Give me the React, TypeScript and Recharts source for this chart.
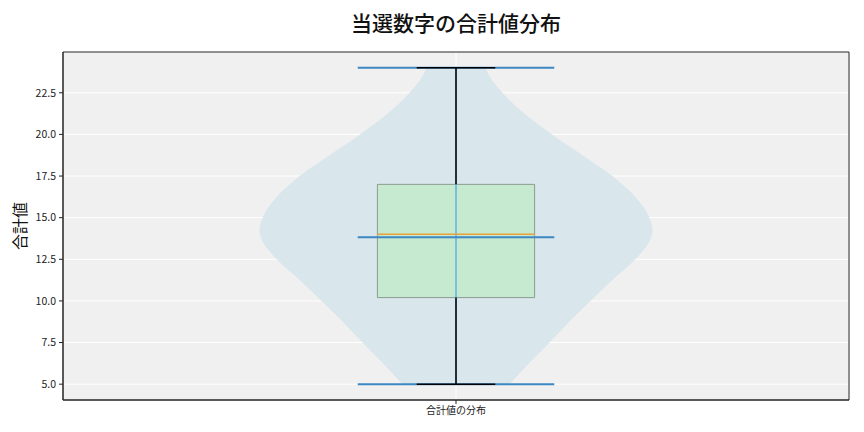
import {
  ComposedChart,
  Area,
  XAxis,
  YAxis,
  CartesianGrid,
  ReferenceArea,
  ReferenceLine
} from "recharts";

// violin outline: value on the y axis, half width in x-axis units
const violinValues = [5, 6.25, 7.5, 8.75, 10, 11.25, 12.5, 13.4, 14.25, 15, 16.25, 17.5, 18.75, 20, 21.25, 22.5, 23.25, 24];
const violinHalfWidth = [
  0.068, 0.093, 0.119, 0.144, 0.171, 0.199, 0.228, 0.244, 0.25, 0.246,
  0.228, 0.199, 0.161, 0.122, 0.087, 0.059, 0.046, 0.037
];

// box plot stats
const minValue = 5;
const maxValue = 24;
const q1 = 10.2;
const q3 = 17.0;
const median = 14.0;
const mean = 13.82;

const yTicks = [5, 7.5, 10, 12.5, 15, 17.5, 20, 22.5];
const categoryLabel = "合計値の分布";
const position = 1;

const FONT = '"Noto Sans CJK JP", "Noto Sans", sans-serif';
const BLUE = "#3d88c2";

const violinData = violinValues.map((v, i) => ({
  value: v,
  range: [position - violinHalfWidth[i], position + violinHalfWidth[i]]
}));

export default function App() {
  return (
    <div
      style={{
        position: "fixed",
        left: 0,
        top: 0,
        width: 864,
        height: 432,
        background: "#fff",
        fontFamily: FONT
      }}
    >
      <div
        style={{
          position: "absolute",
          left: 63,
          width: 786,
          top: 7,
          textAlign: "center",
          fontSize: 21,
          fontWeight: 500,
          color: "#111"
        }}
      >
        当選数字の合計値分布
      </div>
      <ComposedChart
        width={864}
        height={432}
        data={violinData}
        layout="vertical"
        margin={{ top: 52, right: 15, bottom: 0, left: 0 }}
        style={{ fontFamily: FONT }}
      >
        <CartesianGrid fill="#f0f0f0" stroke="#ffffff" strokeWidth={1} />
        <XAxis
          type="number"
          domain={[0.5, 1.5]}
          ticks={[position]}
          tickFormatter={() => categoryLabel}
          height={32}
          tickSize={4}
          tickMargin={3}
          tick={{ fontSize: 10, fill: "#222" }}
          stroke="#222"
          allowDataOverflow
        />
        <YAxis
          type="number"
          dataKey="value"
          reversed
          domain={[4.05, 24.95]}
          ticks={yTicks}
          tickFormatter={(v: number) => v.toFixed(1)}
          width={63}
          tickSize={4}
          tickMargin={3}
          tick={{ fontSize: 10.5, fill: "#222" }}
          stroke="#222"
          allowDataOverflow
          label={{
            value: "合計値",
            angle: -90,
            position: "insideLeft",
            offset: 20,
            style: { textAnchor: "middle", fontSize: 16, fill: "#111" }
          }}
        />
        <Area
          dataKey="range"
          type="monotone"
          fill="#d9e6ec"
          fillOpacity={1}
          stroke="none"
          isAnimationActive={false}
          dot={false}
          activeDot={false}
        />
        {/* violin center bar and extrema */}
        <ReferenceLine segment={[{ x: position, y: minValue }, { x: position, y: maxValue }]} stroke="#5fb0e0" strokeWidth={1.5} />
        <ReferenceLine segment={[{ x: position - 0.125, y: minValue }, { x: position + 0.125, y: minValue }]} stroke={BLUE} strokeWidth={2} />
        <ReferenceLine segment={[{ x: position - 0.125, y: maxValue }, { x: position + 0.125, y: maxValue }]} stroke={BLUE} strokeWidth={2} />
        {/* whiskers */}
        <ReferenceLine segment={[{ x: position, y: minValue }, { x: position, y: q1 }]} stroke="#000" strokeWidth={1.5} />
        <ReferenceLine segment={[{ x: position, y: q3 }, { x: position, y: maxValue }]} stroke="#000" strokeWidth={1.5} />
        <ReferenceLine segment={[{ x: position - 0.05, y: minValue }, { x: position + 0.05, y: minValue }]} stroke="#000" strokeWidth={1.5} />
        <ReferenceLine segment={[{ x: position - 0.05, y: maxValue }, { x: position + 0.05, y: maxValue }]} stroke="#000" strokeWidth={1.5} />
        {/* box */}
        <ReferenceArea
          x1={position - 0.1}
          x2={position + 0.1}
          y1={q1}
          y2={q3}
          fill="#b8edbd"
          fillOpacity={0.6}
          stroke="#8c9c90"
          strokeWidth={1}
          strokeOpacity={1}
        />
        <ReferenceLine segment={[{ x: position - 0.1, y: median }, { x: position + 0.1, y: median }]} stroke="#e8a040" strokeWidth={1.5} />
        <ReferenceLine segment={[{ x: position - 0.125, y: mean }, { x: position + 0.125, y: mean }]} stroke={BLUE} strokeWidth={2} />
        {/* frame */}
        <ReferenceArea x1={0.5} x2={1.5} y1={4.05} y2={24.95} fill="none" stroke="#222" strokeWidth={1} strokeOpacity={1} ifOverflow="visible" />
      </ComposedChart>
    </div>
  );
}
